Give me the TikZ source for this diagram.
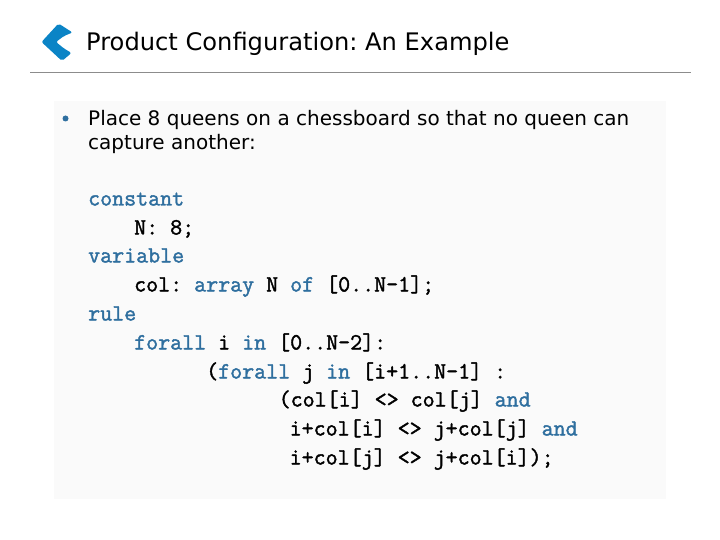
\documentclass[tikz,border=0pt]{standalone}
\usepackage{fontspec}
\setmainfont{DejaVu Sans}
\newfontfamily\codefont{Latin Modern Mono}[FakeBold=1.6]
\definecolor{kw}{HTML}{2F6F9F}
\definecolor{panel}{HTML}{FAFAFA}
\definecolor{logo}{HTML}{0B84C6}
\definecolor{rulec}{HTML}{8C8C8C}
\tikzset{
 code/.style={anchor=base west,inner sep=0pt,font=\frenchspacing\codefont\fontsize{23.3}{24}\selectfont,text=black},
 body/.style={anchor=base west,inner sep=0pt,font=\frenchspacing\fontsize{20}{24}\selectfont,text=black},
 title/.style={anchor=base west,inner sep=0pt,font=\frenchspacing\fontsize{24.15}{28}\selectfont,text=black}
}
\newcommand{\kwd}[1]{\textcolor{kw}{#1}}
\begin{document}
\begin{tikzpicture}[x=1pt,y=-1pt]
\useasboundingbox (0,0) rectangle (720,540);
\fill[white] (0,0) rectangle (720,540);
\fill[panel] (54,101) rectangle (666,499);
\draw[rulec,line width=1pt] (30,72.5) -- (691,72.5);
\fill[logo,rounded corners=2pt] (58.5,23.5) -- (72.5,32.5) -- (64,36) -- (56,42) -- (64,48.5) -- (71.5,53) -- (62,61) -- (41.5,42) -- cycle;
\node[title] (t) at (86,50.5) {Product Configuration: An Example};
\fill[kw] (65.5,118.5) circle (3);
\node[body] (b1) at (88,125.5) {Place 8 queens on a chessboard so that no queen can};
\node[body] (b2) at (88,149.5) {capture another:};
\node[code] (c1) at (88,205.5) {\kwd{constant}};
\node[code] (c2) at (134,234.5) {N: 8;};
\node[code] (c3) at (88,262.5) {\kwd{variable}};
\node[code] (c4) at (134,291.5) {col: \kwd{array} N \kwd{of} [0..N-1];};
\node[code] (c5) at (88,320.5) {\kwd{rule}};
\node[code] (c6) at (134,349.5) {\kwd{forall} i \kwd{in} [0..N-2]:};
\node[code] (c7) at (206,378.5) {(\kwd{forall} j \kwd{in} [i+1..N-1] :};
\node[code] (c8) at (278.5,406.5) {(col[i] <> col[j] \kwd{and}};
\node[code] (c9) at (289.5,435.5) {i+col[i] <> j+col[j] \kwd{and}};
\node[code] (c10) at (289.5,464.5) {i+col[j] <> j+col[i]);};
\end{tikzpicture}
\end{document}
